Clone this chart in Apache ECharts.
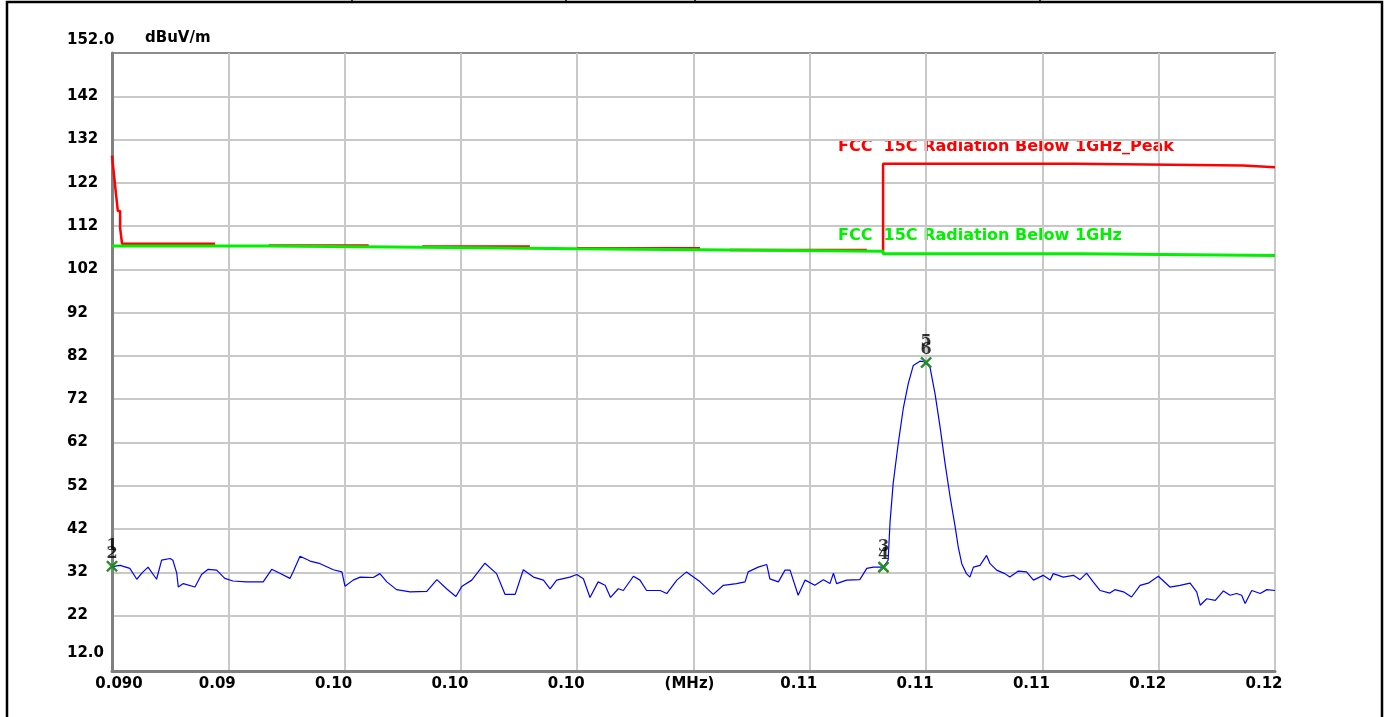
<!DOCTYPE html>
<html>
<head>
<meta charset="utf-8">
<title>Radiated emission 0.09 - 0.12 MHz</title>
<script src="https://cdn.jsdelivr.net/npm/echarts@6/dist/echarts.min.js"></script>
<style>
  html, body { margin: 0; padding: 0; background: #fff; }
  #chart { width: 1387px; height: 717px; }
</style>
</head>
<body>
<div id="chart"></div>
<script>
// measured trace (MHz, dBuV/m)
const freqMHz = [
  0.09000, 0.09021, 0.09046, 0.09064, 0.09077, 0.09093, 0.09115, 0.09128, 0.09150, 0.09157,
  0.09167, 0.09171, 0.09184, 0.09214, 0.09231, 0.09248, 0.09270, 0.09291, 0.09312, 0.09347,
  0.09390, 0.09412, 0.09433, 0.09459, 0.09467, 0.09485, 0.09511, 0.09537, 0.09571, 0.09593,
  0.09601, 0.09622, 0.09640, 0.09674, 0.09691, 0.09709, 0.09734, 0.09769, 0.09812, 0.09838,
  0.09863, 0.09887, 0.09903, 0.09928, 0.09962, 0.09992, 0.10014, 0.10040, 0.10061, 0.10087,
  0.10113, 0.10130, 0.10147, 0.10181, 0.10199, 0.10216, 0.10233, 0.10254, 0.10272, 0.10286,
  0.10306, 0.10319, 0.10345, 0.10362, 0.10379, 0.10414, 0.10431, 0.10457, 0.10482, 0.10517,
  0.10551, 0.10577, 0.10611, 0.10633, 0.10641, 0.10667, 0.10689, 0.10697, 0.10719, 0.10736,
  0.10749, 0.10770, 0.10788, 0.10813, 0.10835, 0.10852, 0.10861, 0.10869, 0.10895, 0.10929,
  0.10947, 0.10964, 0.10990, 0.11002, 0.11007, 0.11015, 0.11028, 0.11041, 0.11054, 0.11067,
  0.11084, 0.11097, 0.11110, 0.11123, 0.11136, 0.11149, 0.11162, 0.11175, 0.11183, 0.11192,
  0.11204, 0.11213, 0.11222, 0.11239, 0.11256, 0.11265, 0.11282, 0.11303, 0.11316, 0.11338,
  0.11359, 0.11377, 0.11402, 0.11420, 0.11428, 0.11454, 0.11480, 0.11497, 0.11514, 0.11531,
  0.11549, 0.11574, 0.11587, 0.11609, 0.11630, 0.11652, 0.11673, 0.11699, 0.11729, 0.11755,
  0.11781, 0.11798, 0.11807, 0.11824, 0.11846, 0.11867, 0.11884, 0.11901, 0.11914, 0.11923,
  0.11940, 0.11962, 0.11979, 0.12000
]
const levelDbuv = [
  33.3, 33.6, 32.9, 30.4, 31.8, 33.2, 30.4, 34.8, 35.2, 34.8,
  31.8, 28.6, 29.4, 28.6, 31.5, 32.7, 32.5, 30.6, 30.0, 29.8,
  29.8, 32.7, 31.8, 30.6, 32.1, 35.7, 34.6, 34.0, 32.6, 32.1,
  28.8, 30.2, 30.9, 30.8, 31.7, 29.8, 28.0, 27.5, 27.6, 30.3,
  28.2, 26.4, 28.8, 30.2, 34.1, 31.7, 26.9, 26.9, 32.6, 30.9,
  30.2, 28.2, 30.2, 30.9, 31.5, 30.5, 26.2, 29.8, 29.0, 26.2,
  28.2, 27.8, 31.1, 30.2, 27.8, 27.8, 27.1, 30.2, 32.1, 29.8,
  26.9, 29.0, 29.4, 29.8, 32.1, 33.2, 33.8, 30.5, 29.8, 32.5,
  32.5, 26.7, 30.2, 29.0, 30.3, 29.4, 31.8, 29.4, 30.2, 30.3,
  32.9, 33.2, 33.2, 34.8, 43.6, 52.5, 61.7, 69.8, 75.6, 79.8,
  80.8, 80.6, 79.4, 73.3, 65.6, 57.1, 49.4, 42.5, 37.8, 34.0,
  31.7, 30.9, 33.2, 33.6, 35.9, 34.0, 32.5, 31.7, 30.9, 32.3,
  32.1, 30.2, 31.3, 30.2, 31.7, 30.9, 31.3, 30.3, 31.8, 29.8,
  27.8, 27.2, 28.0, 27.5, 26.3, 29.0, 29.5, 31.1, 28.6, 29.0,
  29.5, 27.5, 24.4, 25.9, 25.5, 27.7, 26.7, 27.1, 26.7, 24.8,
  27.8, 27.1, 28.0, 27.8
]

// limit lines (breakpoints, drawn as steps)
const avgLimitFreq = [0.09000, 0.09402, 0.09800, 0.10199, 0.10594, 0.10989, 0.11497, 0.12000]
const avgLimitLevel = [107.4, 107.1, 106.75, 106.5, 106.2, 105.6, 105.2, 105.2]
const peakLimitFreq = [0.09000, 0.09005, 0.09010, 0.09015, 0.09021, 0.09026, 0.09266, null,
  0.09404, 0.09662, null, 0.09800, 0.10078, null, 0.10199, 0.10517, null,
  0.10594, 0.10947, null, 0.10989, 0.10989, 0.11484, 0.11917, 0.12000]
const peakLimitLevel = [128.3, 124.0, 119.7, 115.5, 111.5, 107.9, 107.9, null,
  107.5, 107.5, null, 107.3, 107.3, null, 106.9, 106.9, null,
  106.5, 106.5, null, 106.2, 126.4, 126.0, 125.6, 125.6]

// marker points
const markerNo = ['1', '2', '3', '4', '5', '6']
const markerFreq = [0.09000, 0.09000, 0.10990, 0.10990, 0.11100, 0.11100]
const markerLevel = [33.4, 33.4, 33.2, 33.2, 80.5, 80.5]

// axis ticks
const xTickValues = [0.090, 0.093, 0.096, 0.099, 0.102, 0.105, 0.108, 0.111, 0.114, 0.117, 0.120]
const xTickLabels = ['0.090', '0.09', '0.10', '0.10', '0.10', '(MHz)', '0.11', '0.11', '0.11', '0.12', '0.12']
const yTickValues = [22, 32, 42, 52, 62, 72, 82, 92, 102, 112, 122, 132, 142]

const peakLimitName = 'FCC  15C Radiation Below 1GHz_Peak'
const avgLimitName = 'FCC  15C Radiation Below 1GHz'

const font = 'DejaVu Sans'
const green = '#00f000'
const chart = echarts.init(document.getElementById('chart'))

function pair(xs, ys) {
  return xs.map((x, i) => (x === null || ys[i] === null) ? ['-', '-'] : [x, ys[i]])
}

const option = {
  animation: false,
  backgroundColor: '#fff',
  grid: {
    left: 112,
    top: 53,
    right: 112,
    bottom: 46,
    show: true,
    borderColor: '#8c8c8c',
    borderWidth: 2
  },
  xAxis: {
    type: 'value',
    min: 0.09,
    max: 0.12,
    axisLine: { show: true, lineStyle: { color: '#808080', width: 3 } },
    axisTick: { show: false, customValues: xTickValues },
    splitLine: { show: true, lineStyle: { color: '#c8c8c8', width: 2 } },
    axisLabel: {
      customValues: xTickValues,
      margin: 6,
      color: '#000',
      fontFamily: font,
      fontWeight: 'bold',
      fontSize: 15,
      formatter: function (v) {
        let k = 0
        for (let i = 1; i < xTickValues.length; i++) {
          if (Math.abs(xTickValues[i] - v) < Math.abs(xTickValues[k] - v)) k = i
        }
        const style = k === 0 ? 'f' : (k === 5 ? 'm' : 'n')
        return '{' + style + '|' + xTickLabels[k] + '}'
      },
      rich: {
        n: { fontFamily: font, fontWeight: 'bold', fontSize: 15, color: '#000', padding: [0, 22, 0, 0] },
        f: { fontFamily: font, fontWeight: 'bold', fontSize: 15, color: '#000', padding: [0, 0, 0, 14] },
        m: { fontFamily: font, fontWeight: 'bold', fontSize: 15, color: '#000', padding: [0, 8, 0, 0] }
      }
    }
  },
  yAxis: {
    type: 'value',
    min: 9.2,
    max: 152,
    axisLine: { show: true, lineStyle: { color: '#808080', width: 3 } },
    axisTick: { show: false, customValues: yTickValues },
    splitLine: { show: true, lineStyle: { color: '#c8c8c8', width: 2 } },
    axisLabel: {
      customValues: yTickValues,
      align: 'left',
      margin: 45,
      color: '#000',
      fontFamily: font,
      fontWeight: 'bold',
      fontSize: 15
    }
  },
  graphic: [
    // outer frame
    { type: 'rect', shape: { x: 7, y: 2, width: 1375, height: 740 }, style: { fill: 'none', stroke: '#000', lineWidth: 2.5 }, silent: true },
    { type: 'line', shape: { x1: 352, y1: 0, x2: 352, y2: 3 }, style: { stroke: '#000', lineWidth: 1.5 } },
    { type: 'line', shape: { x1: 566, y1: 0, x2: 566, y2: 3 }, style: { stroke: '#000', lineWidth: 1.5 } },
    { type: 'line', shape: { x1: 695, y1: 0, x2: 695, y2: 3 }, style: { stroke: '#000', lineWidth: 1.5 } },
    { type: 'line', shape: { x1: 1040, y1: 0, x2: 1040, y2: 3 }, style: { stroke: '#000', lineWidth: 1.5 } },
    // axis end labels and unit
    { type: 'text', left: 67, top: 33, style: { text: '152.0', font: 'bold 15px ' + font, fill: '#000' } },
    { type: 'text', left: 145, top: 31, style: { text: 'dBuV/m', font: 'bold 15px ' + font, fill: '#000' } },
    { type: 'text', left: 67, top: 646, style: { text: '12.0', font: 'bold 15px ' + font, fill: '#000' } },
    // limit names
    { type: 'text', left: 838, top: 139, style: { text: peakLimitName, font: 'bold 16px ' + font, fill: '#ff0000' } },
    { type: 'text', left: 838, top: 228, style: { text: avgLimitName, font: 'bold 16px ' + font, fill: green } }
  ],
  series: [
    {
      name: peakLimitName,
      type: 'line',
      step: 'end',
      symbol: 'none',
      connectNulls: false,
      lineStyle: { color: '#ff0000', width: 2.5 },
      data: pair(peakLimitFreq, peakLimitLevel),
      z: 2
    },
    {
      name: avgLimitName,
      type: 'line',
      step: 'end',
      symbol: 'none',
      lineStyle: { color: green, width: 3 },
      data: pair(avgLimitFreq, avgLimitLevel),
      z: 3
    },
    {
      name: 'Level',
      type: 'line',
      symbol: 'none',
      lineStyle: { color: '#0000ff', width: 1.2 },
      data: pair(freqMHz, levelDbuv),
      z: 4
    },
    {
      name: 'Markers',
      type: 'scatter',
      symbol: 'path://M0,0L10,10M10,0L0,10',
      symbolSize: 10,
      itemStyle: { color: 'none', borderColor: '#1a8c1a', borderWidth: 2.2 },
      data: markerNo.map((n, i) => ({
        value: [markerFreq[i], markerLevel[i]],
        label: {
          show: true,
          formatter: n,
          position: 'top',
          distance: -3,
          offset: [0, i % 2 === 0 ? -8 : 0],
          color: '#000',
          textBorderWidth: 0,
          fontFamily: 'DejaVu Serif',
          fontWeight: 'bold',
          fontSize: 16
        }
      })),
      z: 5
    }
  ]
}

chart.setOption(option)
</script>
</body>
</html>
